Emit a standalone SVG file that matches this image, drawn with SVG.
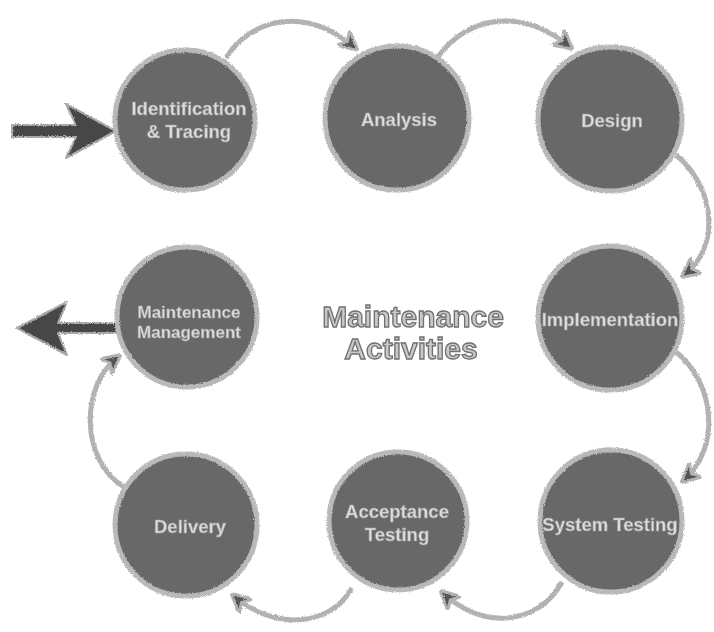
<svg xmlns="http://www.w3.org/2000/svg" width="714" height="632" viewBox="0 0 714 632">
  <defs>
    <style>
      .node circle{fill:#686868;stroke:#b9b9b9;stroke-width:5}
      .label{font-family:"Liberation Sans",Arial,sans-serif;font-weight:bold;font-size:18.5px;fill:#dedede;stroke:#a0a0a0;stroke-width:0.6;text-anchor:middle}
      .small{font-size:17px}
      .title{font-family:"Liberation Sans",Arial,sans-serif;font-weight:bold;font-size:30px;fill:#c8c8c8;stroke:#707070;stroke-width:1.3;text-anchor:middle}
      .link{fill:none;stroke:#b2b2b2;stroke-width:5}
      .big{fill:#474747;stroke:#a8a8a8;stroke-width:2;stroke-linejoin:round}
    </style>
    <!-- rough chalk edge -->
    <filter id="chalk" x="-10%" y="-10%" width="120%" height="120%">
      <feTurbulence type="fractalNoise" baseFrequency="0.9" numOctaves="2" seed="4" result="noise"/>
      <feDisplacementMap in="SourceGraphic" in2="noise" scale="3" xChannelSelector="R" yChannelSelector="G"/>
    </filter>
    <filter id="chalkText" x="-5%" y="-20%" width="110%" height="140%">
      <feTurbulence type="fractalNoise" baseFrequency="1.1" numOctaves="1" seed="7" result="noise"/>
      <feDisplacementMap in="SourceGraphic" in2="noise" scale="1.6" xChannelSelector="R" yChannelSelector="G"/>
    </filter>
    <marker id="head" viewBox="0 0 10 10" refX="8" refY="5" markerWidth="4" markerHeight="4" orient="auto" markerUnits="strokeWidth">
      <path d="M0,0 L10,5 L0,10 L3,5 Z" fill="#555" stroke="#b2b2b2" stroke-width="1.5"/>
    </marker>
  </defs>

  <rect width="714" height="632" fill="#ffffff"/>

  <!-- cycle connectors -->
  <g id="connectors" filter="url(#chalk)">
    <path class="link" d="M226,58 C248,22 302,2 355,48" marker-end="url(#head)"/>
    <path class="link" d="M438,57 C462,22 516,2 570,47" marker-end="url(#head)"/>
    <path class="link" d="M676,155 C714,186 722,246 684,275" marker-end="url(#head)"/>
    <path class="link" d="M676,352 C714,382 722,446 684,480" marker-end="url(#head)"/>
    <path class="link" d="M562,582 C538,626 482,630 443,593" marker-end="url(#head)"/>
    <path class="link" d="M352,588 C330,628 272,630 234,596" marker-end="url(#head)"/>
    <path class="link" d="M124,487 C80,460 80,386 118,357" marker-end="url(#head)"/>
    <!-- entry and exit arrows -->
    <path class="big" d="M12,125 L76,125 L66,104 L116,131 L66,158 L76,137 L12,137 Z"/>
    <path class="big" d="M120,323 L58,323 L67,302 L17,328 L67,355 L58,333 L120,333 Z"/>
  </g>

  <g id="identification" class="node">
    <circle cx="185" cy="120" r="70" filter="url(#chalk)"/>
    <text class="label" x="189" y="115" filter="url(#chalkText)">Identification</text>
    <text class="label" x="189" y="138" filter="url(#chalkText)">&amp; Tracing</text>
  </g>
  <g id="analysis" class="node">
    <circle cx="397" cy="118" r="72" filter="url(#chalk)"/>
    <text class="label" x="399" y="126" filter="url(#chalkText)">Analysis</text>
  </g>
  <g id="design" class="node">
    <circle cx="610" cy="119" r="72" filter="url(#chalk)"/>
    <text class="label" x="612" y="127" filter="url(#chalkText)">Design</text>
  </g>
  <g id="implementation" class="node">
    <circle cx="610" cy="318" r="72" filter="url(#chalk)"/>
    <text class="label" x="610" y="326" filter="url(#chalkText)">Implementation</text>
  </g>
  <g id="system-testing" class="node">
    <circle cx="611" cy="521" r="71" filter="url(#chalk)"/>
    <text class="label" x="610" y="531" filter="url(#chalkText)">System Testing</text>
  </g>
  <g id="acceptance-testing" class="node">
    <circle cx="398" cy="521" r="69" filter="url(#chalk)"/>
    <text class="label" x="397" y="518" filter="url(#chalkText)">Acceptance</text>
    <text class="label" x="397" y="541" filter="url(#chalkText)">Testing</text>
  </g>
  <g id="delivery" class="node">
    <circle cx="186" cy="525" r="71" filter="url(#chalk)"/>
    <text class="label" x="190" y="533" filter="url(#chalkText)">Delivery</text>
  </g>
  <g id="maintenance-management" class="node">
    <circle cx="187" cy="317" r="70" filter="url(#chalk)"/>
    <text class="label small" x="189" y="318" filter="url(#chalkText)">Maintenance</text>
    <text class="label small" x="189" y="338" filter="url(#chalkText)">Management</text>
  </g>

  <g id="center-title" filter="url(#chalkText)">
    <text class="title" x="413" y="327">Maintenance</text>
    <text class="title" x="411" y="359">Activities</text>
  </g>
</svg>
